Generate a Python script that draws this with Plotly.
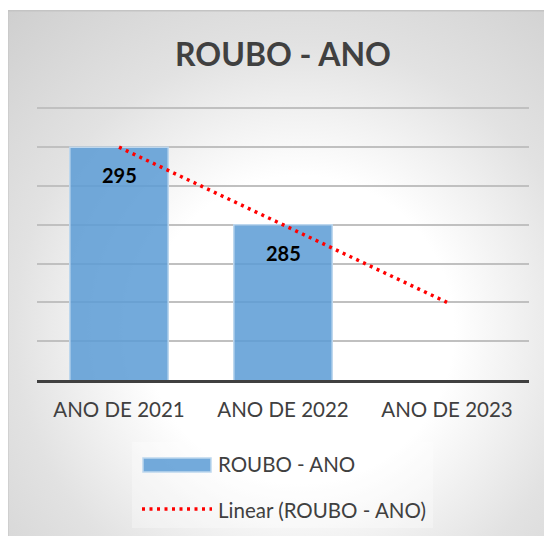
import base64
import plotly.graph_objects as go

# data
categories = ["ANO DE 2021", "ANO DE 2022", "ANO DE 2023"]
roubo = [295, 285, None]
trend = [295, 285, 275]
series_name = "ROUBO - ANO"
trend_name = "Linear (ROUBO - ANO)"

W, H = 552, 536
OFF = 8  # page body margin: the figure is drawn 8px right/down
L, T = 37 - OFF, 106 - OFF
R, B = W - (529 - OFF), H - (380 - OFF)
PW, PH = W - L - R, H - T - B

BAR_FILL = "rgba(91,155,213,0.85)"
BAR_EDGE = "#bdd7ee"
TXT = "#404040"
FONT = "Lato, 'Open Sans', sans-serif"


def px_x(x):
    # page pixel -> paper coordinate
    return (x - OFF - L) / PW


def px_y(y):
    return (H - B - (y - OFF)) / PH


# radial gradient background of the chart frame (Excel style)
svg = (
    '<svg xmlns="http://www.w3.org/2000/svg" width="560" height="540">'
    '<defs><radialGradient id="g" gradientUnits="userSpaceOnUse" cx="293" cy="320" r="440">'
    '<stop offset="0" stop-color="#ffffff"/>'
    '<stop offset="0.35" stop-color="#ffffff"/>'
    '<stop offset="0.65" stop-color="#e2e2e2"/>'
    '<stop offset="1" stop-color="#cecece"/>'
    '</radialGradient></defs>'
    '<rect x="0.75" y="0.75" width="570" height="560" fill="url(#g)" stroke="#c4c4c4" stroke-width="1.5"/>'
    '</svg>'
)
bg_uri = "data:image/svg+xml;base64," + base64.b64encode(svg.encode()).decode()

fig = go.Figure()
fig.add_trace(go.Bar(
    x=categories, y=roubo, name=series_name,
    marker=dict(color=BAR_FILL, line=dict(color=BAR_EDGE, width=1.5)),
    width=0.6, showlegend=False, hoverinfo="skip",
))
fig.add_trace(go.Scatter(
    x=categories, y=trend, name=trend_name, mode="lines",
    line=dict(color="#ff0000", width=3.5, dash="3px,4.5px"),
    showlegend=False, hoverinfo="skip",
))

# data labels
for c, v in zip(categories, roubo):
    if v is None:
        continue
    fig.add_annotation(
        x=c, y=v, text=f"<b>{v}</b>", showarrow=False,
        yshift=-28, font=dict(family=FONT, size=20, color="#000000"),
    )

# hand-drawn legend, Excel-like wide swatches
shapes = [
    dict(type="rect", xref="paper", yref="paper", layer="below",
         x0=px_x(132), x1=px_x(433), y0=px_y(528), y1=px_y(442),
         fillcolor="rgba(255,255,255,0.3)", line=dict(width=0)),
    dict(type="rect", xref="paper", yref="paper",
         x0=px_x(143), x1=px_x(211), y0=px_y(472), y1=px_y(458),
         fillcolor=BAR_FILL, line=dict(color=BAR_EDGE, width=1.5)),
    dict(type="line", xref="paper", yref="paper",
         x0=px_x(142), x1=px_x(212), y0=px_y(509), y1=px_y(509),
         line=dict(color="#ff0000", width=3.5, dash="3px,4.5px")),
]
for name, yy in [(series_name, 464), (trend_name, 510)]:
    fig.add_annotation(
        xref="paper", yref="paper", x=px_x(216), y=px_y(yy),
        xanchor="left", yanchor="middle", text=name, showarrow=False,
        font=dict(family=FONT, size=20.5, color=TXT),
    )

fig.update_layout(
    width=W, height=H,
    margin=dict(l=L, r=R, t=T, b=B),
    paper_bgcolor="white",
    plot_bgcolor="rgba(0,0,0,0)",
    title=dict(text="<b>ROUBO - ANO</b>", x=0.5, xref="paper", xanchor="center",
               y=1 - (55 - OFF) / H, yref="container", yanchor="middle",
               font=dict(family=FONT, size=32, color=TXT)),
    showlegend=False,
    bargap=0.4,
    shapes=shapes,
    images=[dict(source=bg_uri, xref="paper", yref="paper",
                 x=px_x(7), y=px_y(10), sizex=560 / PW, sizey=540 / PH,
                 xanchor="left", yanchor="top", sizing="stretch", layer="below")],
    xaxis=dict(showgrid=False, showline=True, linecolor=TXT, linewidth=3,
               ticks="", tickfont=dict(family=FONT, size=20.5, color=TXT),
               ticklabelstandoff=9, fixedrange=True),
    yaxis=dict(range=[265, 300.3], dtick=5, tick0=265, showticklabels=False,
               gridcolor="#c0c0c0", gridwidth=1.5, zeroline=False, ticks="",
               fixedrange=True),
)

fig.write_html("out.html")
